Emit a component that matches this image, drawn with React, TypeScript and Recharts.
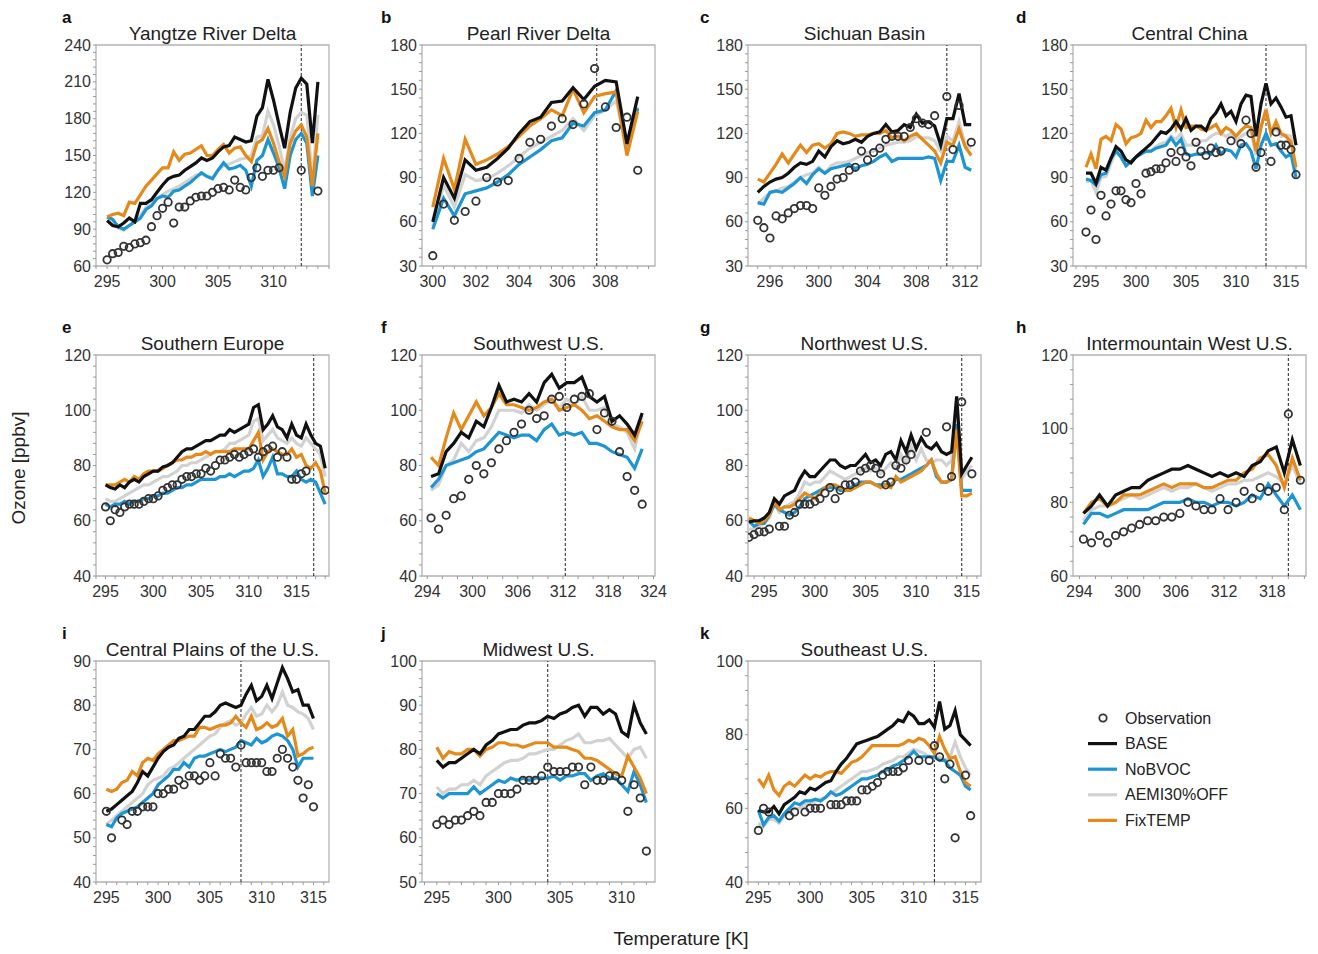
import React from "react";
import {
  ComposedChart,
  Line,
  Scatter,
  XAxis,
  YAxis,
  ReferenceLine,
  ReferenceArea,
} from "recharts";

const FONT = '"Liberation Sans", Arial, Helvetica, sans-serif';

// temperature bins (regular spacing, K)
const bins = (start: number, count: number, step: number) =>
  Array.from({ length: count }, (_, i) => Math.round((start + i * step) * 100) / 100);
const range = (a: number, b: number, s: number) => {
  const out: number[] = [];
  for (let v = a; v <= b + 1e-9; v += s) out.push(Math.round(v * 100) / 100);
  return out;
};

// ---------- a: Yangtze River Delta ----------
const tA = bins(295, 39, 0.5);
const baseA = [97,93,92,95,99,96,111,111,114,120,126,131,133,134,138,141,144,148,146,148,153,157,158,165,163,161,162,182,189,212,195,175,156,185,205,213,208,160,210];
const fixA = [100,102,103,101,112,111,118,125,130,135,140,140,153,146,151,152,155,158,150,150,155,159,152,156,157,150,145,160,163,172,160,145,133,160,170,175,165,125,168];
const aemiA = [100,97,91,89,93,96,101,108,110,115,118,121,123,125,128,131,134,135,133,132,138,142,143,145,147,148,150,165,166,186,175,158,137,165,180,185,183,130,183];
const noBvocA = [100,98,92,90,93,96,99,106,109,115,117,116,121,122,125,128,132,136,133,131,138,144,139,140,142,138,125,146,150,163,152,140,123,150,163,168,160,117,150];
const obsA = [65,70,71,76,75,78,79,81,92,101,107,112,95,108,108,113,116,117,117,120,123,124,122,130,124,122,132,140,133,138,138,140,null,null,null,138,null,null,121];

// ---------- b: Pearl River Delta ----------
const tB = bins(300, 20, 0.5);
const baseB = [60,90,76,102,95,97,103,110,120,128,131,141,142,151,143,152,156,155,113,145];
const fixB = [70,103,82,116,99,102,106,111,118,125,130,136,132,150,134,145,147,148,105,135];
const aemiB = [57,85,70,92,88,89,93,98,104,110,114,118,122,130,122,132,136,142,110,138];
const noBvocB = [55,76,64,79,81,83,87,92,99,104,109,115,117,127,125,134,136,149,112,137];
const obsB = [37,72,61,67,74,90,87,88,103,114,116,125,130,126,140,164,138,124,131,95];

// ---------- c: Sichuan Basin ----------
const tC = bins(295, 36, 0.5);
const baseC = [80,84,87,89,90,93,97,100,99,101,108,104,111,115,113,114,116,114,118,120,121,126,121,122,126,124,133,127,128,125,112,130,130,147,126,126];
const fixC = [89,87,93,99,106,100,106,112,107,112,113,110,113,120,121,120,118,119,119,120,120,122,117,118,115,118,120,116,112,108,100,114,112,123,111,105];
const aemiC = [72,76,80,81,83,84,87,90,92,93,97,93,98,100,100,101,103,105,107,108,110,112,113,114,114,115,118,117,117,115,108,118,115,128,112,110];
const noBvocC = [73,72,80,81,80,83,86,90,86,92,96,93,96,97,98,99,96,98,99,101,104,106,101,103,103,103,103,103,104,103,88,101,101,112,97,95];
const obsC = [61,56,49,64,62,66,69,71,71,69,83,78,84,89,90,95,97,108,102,107,110,116,118,118,118,124,130,127,126,132,null,145,109,139,null,114];

// ---------- d: Central China ----------
const tD = bins(295, 43, 0.5);
const baseD = [93,93,86,97,95,103,111,108,102,100,104,107,110,113,117,121,120,123,128,123,130,122,125,125,122,130,134,140,132,135,128,140,146,145,118,140,154,140,144,138,131,132,112];
const fixD = [97,106,96,116,118,115,126,123,113,117,118,120,129,124,128,128,132,137,124,136,124,125,125,123,122,124,126,120,124,122,118,122,125,124,108,124,136,120,128,120,118,114,97];
const aemiD = [87,88,80,90,91,100,108,104,98,101,104,107,108,108,111,113,114,118,116,120,112,112,112,115,115,118,120,120,118,120,115,118,120,122,105,125,137,120,124,118,119,118,93];
const noBvocD = [89,88,85,92,93,103,108,104,98,101,104,106,108,108,110,111,112,117,112,116,106,105,106,106,107,106,112,106,109,108,104,112,113,108,96,112,120,112,113,108,104,106,90];
const obsD = [53,68,48,78,64,72,81,81,75,73,86,79,93,94,96,96,100,107,101,108,104,98,114,108,105,110,107,108,null,115,null,113,129,120,97,107,null,101,121,112,112,109,92];

// ---------- e: Southern Europe ----------
const tE = bins(295, 47, 0.5);
const baseE = [73,72,71.5,73,72,74,75,74,76,77,78,78,79.5,80,81,83,85,86,86,87,88,89,89,90,91,91,93,92,93,94,95,101,102,93,95,98,94,93,90,95,91,90,95,91,88,87,79];
const fixE = [73,73,73,74,75,74,76,75,77,78,78,78,79,80,81,82,82,83,83,84,84,85,84,85,85,85,85,86,86,86,86,89,92,82,85,86,85,84,84,86,83,84,80,79,81,78,70];
const aemiE = [68,67,67,68,69,70,71,72,73,73,74,75,76,76,77,78,80,80,81,81,82,83,84,85,85,86,88,88,89,90,91,96,97,89,91,93,90,89,88,90,88,87,90,88,86,84,76];
const noBvocE = [66,65,66,66,67,66,67,67,68,68,69,69,70,70,71,72,72,73,73,74,75,75,75,75,76,76,77,76,77,78,78,79,82,76,79,83,77,77,76,76,78,75,74,75,74,70,66];
const obsE = [65,60,64,63,65,66,66,66,67,68,68,69,71,72,73,73,75,76,76,77,77,79,78,80,82,82,83,84,83,84,85,86,83,85,86,87,83,85,83,75,75,77,78,null,null,null,71];

// ---------- f: Southwest U.S. ----------
const tF = bins(294.5, 29, 1);
const baseF = [76,77,85,88,92,90,96,94,101,109,103,104,103,106,103,110,113,108,110,110,112,105,103,105,96,98,95,91,99];
const fixF = [83,80,90,99,93,98,103,98,101,106,102,102,101,100,101,103,104,100,101,102,100,97,98,96,94,93,93,89,96];
const aemiF = [71,73,80,82,88,85,89,90,94,100,100,100,99,102,100,102,104,101,104,102,105,100,100,101,95,94,92,86,98];
const noBvocF = [72,75,80,81,82,83,85,86,89,92,91,90,91,91,89,93,95,91,92,91,92,88,88,87,85,84,83,79,86];
const obsF = [61,57,62,68,69,75,80,77,81,86,89,92,95,100,97,98,104,105,101,104,105,106,93,99,96,85,76,71,66];

// ---------- g: Northwest U.S. ----------
const tG = bins(293.5, 45, 0.5);
const baseG = [59.5,60,60,61,63,68,66,69,70,71,75,78,76,76,78,80,82,82,80,79,80,80,82,84,81,82,80,84,85,82,89,85,91,86,90,87,86,88,85,84,85,105,77,80,83];
const fixG = [61,60,59,60,62,67,64,65,65,66,68,70,69,68,70,72,73,73,72,71,71,72,73,74,74,73,72,73,72,76,74,75,76,77,78,80,82,77,74,74,75,93,69,69,70];
const aemiG = [57,57,58,59,61,66,63,65,66,67,70,74,73,74,74,76,78,77,76,75,76,77,78,79,78,79,77,79,81,79,84,81,87,82,86,82,81,82,82,80,82,103,75,78,80];
const noBvocG = [60,58,59,59,62,66,64,63,62,63,65,68,69,70,71,72,72,72,71,71,72,73,74,74,74,73,73,73,73,75,75,76,77,78,79,80,82,76,74,74,75,95,71,71,71];
const obsG = [54,55,56,56,57,null,58,58,62,63,66,66,66,67,68,70,72,68,71,73,73,74,78,79,80,79,77,73,74,80,79,82,84,null,null,92,null,null,null,94,76,null,103,null,77];

// ---------- h: Intermountain West U.S. ----------
const tH = bins(294.5, 28, 1);
const baseH = [77,79,82,79,82,83,84,84,86,87,88,89,89,90,89,88,87,88,87,88,87,90,91,94,95,88,97,90];
const fixH = [77,80,81,79,80,82,82,82,83,84,85,84,85,85,85,84,84,85,86,86,88,89,92,93,90,84,92,86];
const aemiH = [75,78,79,79,80,81,82,81,82,83,84,83,84,84,85,84,83,84,85,85,86,86,87,88,87,85,90,85];
const noBvocH = [74,77,77,76,77,78,78,78,78,79,80,80,80,81,80,80,79,80,80,79,80,82,81,85,82,79,82,78];
const obsTH = [294.5,295.5,296.5,297.5,298.5,299.5,300.5,301.5,302.5,303.5,304.5,305.5,306.5,307.5,308.5,309.5,310.5,311.5,312.5,313.5,314.5,315.5,316.5,317.5,318.5,319.5,320,321.5];
const obsH = [70,69,71,69,71,72,73,74,75,75,76,76,77,80,79,78,78,81,78,80,83,81,84,83,84,78,104,86];

// ---------- i: Central Plains of the U.S. ----------
const tI = bins(295, 41, 0.5);
const baseI = [56,56.5,57.5,58.5,59.5,60.5,62.5,65,64,66,68,69.5,70.5,71,72.5,73,74.5,74.5,76,77.5,77.5,78.5,80,80.5,80,79.5,80,82.5,84.5,81,82,84.5,81.5,85,88.5,86,83,83.5,80,80,77];
const fixI = [61,60.5,61,62.5,63,65,64,67,68,67.5,69,70,71,72,72,72.5,73,73,75,75,74.5,75,75.5,75.5,76,77.5,76,75,77.5,74.5,75,76,75,75.5,77,73,74.5,68.5,69,70,70.5];
const aemiI = [53,54,55,56,57,58,59,60,62,63,63.5,64,65.5,66,67,68,69,70,71,72,73,73.5,75,76,76.5,75.5,76,78,79.5,77.5,78,80,78.5,80,83,80,79.5,78.5,78,77,74.5];
const noBvocI = [53,52.5,54.5,55.5,56,56.5,57,58,59,60,62,63,64,65.5,65.5,67,66,68,68.5,68.5,69,69.5,70,69.5,70,70.5,72,71.5,71,72.5,71.5,72,73,73.5,73,72,70,66,68,68,68];
const obsI = [56,50,null,54,53,56,56,57,57,57,60,60,61,61,63,62,64,64,63,64,67,64,69,68,68,66,71,67,67,67,67,65,65,68,70,68,66,63,59,62,57];

// ---------- j: Midwest U.S. ----------
const tJ = bins(295, 35, 0.5);
const baseJ = [77.5,76,77,77,78,79,80,79,81,82,83.5,84,84.5,84.5,85.5,86,86,86.5,87.5,87,88,88.5,89.5,90,87.5,89.5,89.5,88,89,88,84,83,90,86,83.5];
const fixJ = [80.5,78,79.5,79,79,80,80,78.5,80,80.5,81.5,81.5,81,81,80.5,81,81.5,81.5,81.5,80.5,80.5,80.5,80,79.5,78,78,77.5,76.5,75.5,74.5,74,78.5,76,73.5,70];
const aemiJ = [71.5,70,71,71,72,72,73,72,74,75,76,77,77.5,77.5,78,79,79,79.5,80,80,81,82,82.5,83.5,81.5,81.5,82,82,82.5,81,79.5,78,80,80.5,78];
const noBvocJ = [70,69,70,70,70,70,71.5,70,71,72,73,72.5,73.5,73,73.5,73,73.5,73.5,73.5,74,73,74,74,74.5,74.5,73,74,74.5,73.5,73.5,72,70.5,75,72,68];
const obsJ = [63,64,63,64,64,65,66,65,68,68,70,70,70,71,73,73,73,74,76,75,75,75,76,76,72,76,73,73,74,74,73,66,72,69,57];

// ---------- k: Southeast U.S. ----------
const tK = bins(295, 42, 0.5);
const baseK = [59.5,59,59,60.5,58.5,61,62,63,64.5,64,65.5,65,66,67,67.5,70,72,73.5,75.5,77.5,78,78.5,79,79.5,80.5,81.5,82.5,84,83.5,86,85,83,83,84,82,89,81.5,82.5,86.5,80,78.5,77];
const fixK = [68,66,69,65,63.5,66,67,66,67.5,69,68,69,68.5,69.5,70,70,69.5,71,72.5,73,74,75.5,77,77,77,77,77,77,77.5,78.5,78,79,78.5,77,75,79.5,76,73.5,74,70,67,66];
const aemiK = [56,55,57,57,56,58,59,60,60,61,61,62,62.5,63,64,65,66,67,68,69,70,70,70.5,71,72,72.5,73,74,74,75,76,75.5,75,74,73.5,74,73,74,78,74,71,69];
const noBvocK = [59.5,55.5,57.5,58,56.5,58.5,60,61.5,61,62,62,62.5,62,63,64.5,63.5,64,65,66,67,68,68,68.5,69,70,70.5,71.5,72,73,74,75.5,74,74,74,74,73,73,71,70,69,66,65];
const obsK = [54,60,59,null,null,null,58,59,null,59,60,60,60,null,61,61,61,62,62,62,65,65,66,67,69,70,70,70,71,73,null,73,null,73,77,74,68,72,52,null,69,58];

// tick labels
const yTicksA = [60, 90, 120, 150, 180, 210, 240];
const yTicks30 = [30, 60, 90, 120, 150, 180];
const yTicks40 = [40, 60, 80, 100, 120];
const yTicksH = [60, 80, 100, 120];
const yTicksI = [40, 50, 60, 70, 80, 90];
const yTicksJ = [50, 60, 70, 80, 90, 100];
const yTicksK = [40, 60, 80, 100];
const xTicks295 = [295, 300, 305, 310, 315];
const xTicksA = [295, 300, 305, 310];
const xTicksB = [300, 302, 304, 306, 308];
const xTicksC = [296, 300, 304, 308, 312];
const xTicksF = [294, 300, 306, 312, 318, 324];
const xTicksH = [294, 300, 306, 312, 318];
const xTicksJ = [295, 300, 305, 310];

const COLORS = {
  base: "#111111",
  noBvoc: "#1d95d3",
  aemi: "#d2d2d2",
  fixTemp: "#e5891a",
  obs: "#333333",
};

const panels = [
  { letter: "a", title: "Yangtze River Delta", col: 0, row: 0, t: tA, base: baseA, fixTemp: fixA, aemi: aemiA, noBvoc: noBvocA, obs: obsA, xDomain: [294, 315], xTicks: xTicksA, xMinor: range(294, 315, 1), yDomain: [60, 240], yTicks: yTicksA, yMinor: range(60, 240, 6), dash: 312.5 },
  { letter: "b", title: "Pearl River Delta", col: 1, row: 0, t: tB, base: baseB, fixTemp: fixB, aemi: aemiB, noBvoc: noBvocB, obs: obsB, xDomain: [299.5, 310.3], xTicks: xTicksB, xMinor: range(300, 310, 0.5), yDomain: [30, 180], yTicks: yTicks30, yMinor: range(30, 180, 6), dash: 307.6 },
  { letter: "c", title: "Sichuan Basin", col: 2, row: 0, t: tC, base: baseC, fixTemp: fixC, aemi: aemiC, noBvoc: noBvocC, obs: obsC, xDomain: [294.2, 313.3], xTicks: xTicksC, xMinor: range(295, 313, 1), yDomain: [30, 180], yTicks: yTicks30, yMinor: range(30, 180, 6), dash: 310.5 },
  { letter: "d", title: "Central China", col: 3, row: 0, t: tD, base: baseD, fixTemp: fixD, aemi: aemiD, noBvoc: noBvocD, obs: obsD, xDomain: [293.7, 317], xTicks: xTicks295, xMinor: range(294, 317, 1), yDomain: [30, 180], yTicks: yTicks30, yMinor: range(30, 180, 6), dash: 313 },
  { letter: "e", title: "Southern Europe", col: 0, row: 1, t: tE, base: baseE, fixTemp: fixE, aemi: aemiE, noBvoc: noBvocE, obs: obsE, xDomain: [294, 318.4], xTicks: xTicks295, xMinor: range(294, 318, 1), yDomain: [40, 120], yTicks: yTicks40, yMinor: range(40, 120, 4), dash: 316.8 },
  { letter: "f", title: "Southwest U.S.", col: 1, row: 1, t: tF, base: baseF, fixTemp: fixF, aemi: aemiF, noBvoc: noBvocF, obs: obsF, xDomain: [293.3, 324.2], xTicks: xTicksF, xMinor: range(294, 324, 2), yDomain: [40, 120], yTicks: yTicks40, yMinor: range(40, 120, 4), dash: 312.3 },
  { letter: "g", title: "Northwest U.S.", col: 2, row: 1, t: tG, base: baseG, fixTemp: fixG, aemi: aemiG, noBvoc: noBvocG, obs: obsG, xDomain: [293.4, 316.4], xTicks: xTicks295, xMinor: range(294, 316, 1), yDomain: [40, 120], yTicks: yTicks40, yMinor: range(40, 120, 4), dash: 314.5 },
  { letter: "h", title: "Intermountain West U.S.", col: 3, row: 1, t: tH, base: baseH, fixTemp: fixH, aemi: aemiH, noBvoc: noBvocH, obs: obsH, obsT: obsTH, xDomain: [293.2, 322.2], xTicks: xTicksH, xMinor: range(294, 322, 2), yDomain: [60, 120], yTicks: yTicksH, yMinor: range(60, 120, 4), dash: 320 },
  { letter: "i", title: "Central Plains of the U.S.", col: 0, row: 2, t: tI, base: baseI, fixTemp: fixI, aemi: aemiI, noBvoc: noBvocI, obs: obsI, xDomain: [294, 316.5], xTicks: xTicks295, xMinor: range(294, 316, 1), yDomain: [40, 90], yTicks: yTicksI, yMinor: range(40, 90, 2), dash: 308 },
  { letter: "j", title: "Midwest U.S.", col: 1, row: 2, t: tJ, base: baseJ, fixTemp: fixJ, aemi: aemiJ, noBvoc: noBvocJ, obs: obsJ, xDomain: [293.8, 312.7], xTicks: xTicksJ, xMinor: range(294, 312, 1), yDomain: [50, 100], yTicks: yTicksJ, yMinor: range(50, 100, 2), dash: 304 },
  { letter: "k", title: "Southeast U.S.", col: 2, row: 2, t: tK, base: baseK, fixTemp: fixK, aemi: aemiK, noBvoc: noBvocK, obs: obsK, xDomain: [294, 316.5], xTicks: xTicks295, xMinor: range(294, 316, 1), yDomain: [40, 100], yTicks: yTicksK, yMinor: range(40, 100, 4), dash: 312 },
];

const COL_X = [96, 422, 748, 1073];
const ROW_Y = [45, 355, 661];
const LETTER_X = [62, 381, 700, 1016];
const PLOT_W = 233;
const PLOT_H = 221;
const M_LEFT = 57;
const M_TOP = 10;
const M_RIGHT = 24;
const X_H = 39;
const CHART_W = M_LEFT + PLOT_W + M_RIGHT;
const CHART_H = M_TOP + PLOT_H + X_H;

const isMajor = (majors: number[], v: number) => majors.some((m) => Math.abs(m - v) < 1e-6);

const makeXTick = (majors: number[]) => (props: any) => {
  const { x, y, payload } = props;
  if (!isMajor(majors, payload.value)) return <g />;
  return (
    <text x={x} y={y} dy="0.75em" textAnchor="middle" fontSize={16} fill="#333" fontFamily={FONT}>
      {payload.value}
    </text>
  );
};

const makeYTick = (majors: number[]) => (props: any) => {
  const { x, y, payload } = props;
  if (!isMajor(majors, payload.value)) return <g />;
  return (
    <text x={x} y={y} dy="0.35em" textAnchor="end" fontSize={16} fill="#333" fontFamily={FONT}>
      {payload.value}
    </text>
  );
};

const ObsDot = (props: any) => {
  const { cx, cy } = props;
  if (cx == null || cy == null) return <g />;
  return <circle cx={cx} cy={cy} r={3.7} fill="none" stroke={COLORS.obs} strokeWidth={1.8} />;
};

const Panel = ({ p }: { p: any }) => {
  const rows = p.t.map((t: number, i: number) => ({
    t,
    base: p.base[i],
    noBvoc: p.noBvoc[i],
    aemi: p.aemi[i],
    fixTemp: p.fixTemp[i],
  }));
  const obsT = p.obsT || p.t;
  const obsRows = obsT
    .map((t: number, i: number) => ({ t, obs: p.obs[i] }))
    .filter((r: any) => r.obs != null);

  return (
    <div
      style={{
        position: "absolute",
        left: COL_X[p.col] - M_LEFT,
        top: ROW_Y[p.row] - M_TOP,
        width: CHART_W,
        height: CHART_H,
      }}
    >
      <ComposedChart
        width={CHART_W}
        height={CHART_H}
        data={rows}
        margin={{ top: M_TOP, right: M_RIGHT, bottom: 0, left: 0 }}
      >
        <XAxis
          type="number"
          dataKey="t"
          domain={p.xDomain}
          allowDataOverflow
          ticks={p.xMinor}
          interval={0}
          height={X_H}
          axisLine={false}
          tickLine={{ stroke: "#9a9a9a" }}
          tickSize={3}
          tickMargin={6}
          tick={makeXTick(p.xTicks)}
        />
        <YAxis
          type="number"
          domain={p.yDomain}
          allowDataOverflow
          ticks={p.yMinor}
          interval={0}
          width={M_LEFT}
          axisLine={false}
          tickLine={{ stroke: "#9a9a9a" }}
          tickSize={3}
          tickMargin={2}
          tick={makeYTick(p.yTicks)}
        />
        <ReferenceArea
          x1={p.xDomain[0]}
          x2={p.xDomain[1]}
          y1={p.yDomain[0]}
          y2={p.yDomain[1]}
          fill="none"
          stroke="#b3b3b3"
          strokeWidth={1.3}
        />
        <ReferenceLine x={p.dash} stroke="#222" strokeWidth={1} strokeDasharray="3 2" />
        <Line type="linear" dataKey="aemi" stroke={COLORS.aemi} strokeWidth={3.2} dot={false} activeDot={false} isAnimationActive={false} />
        <Line type="linear" dataKey="noBvoc" stroke={COLORS.noBvoc} strokeWidth={3.2} dot={false} activeDot={false} isAnimationActive={false} />
        <Line type="linear" dataKey="fixTemp" stroke={COLORS.fixTemp} strokeWidth={3.2} dot={false} activeDot={false} isAnimationActive={false} />
        <Line type="linear" dataKey="base" stroke={COLORS.base} strokeWidth={3.2} dot={false} activeDot={false} isAnimationActive={false} />
        <Scatter data={obsRows} dataKey="obs" shape={ObsDot} isAnimationActive={false} />
      </ComposedChart>
    </div>
  );
};

const legendItems = [
  { name: "Observation", kind: "obs", color: COLORS.obs },
  { name: "BASE", kind: "line", color: COLORS.base },
  { name: "NoBVOC", kind: "line", color: COLORS.noBvoc },
  { name: "AEMI30%OFF", kind: "line", color: COLORS.aemi },
  { name: "FixTEMP", kind: "line", color: COLORS.fixTemp },
];

export default function App() {
  return (
    <div
      style={{
        position: "absolute",
        left: 0,
        top: 0,
        width: 1318,
        height: 954,
        background: "#fff",
        fontFamily: FONT,
      }}
    >
      <svg width={1318} height={954} style={{ position: "absolute", left: 0, top: 0 }}>
        {panels.map((p) => (
          <g key={p.letter}>
            <text
              x={LETTER_X[p.col]}
              y={ROW_Y[p.row] - 28}
              dominantBaseline="central"
              fontSize={17}
              fontWeight="bold"
              fill="#111"
              fontFamily={FONT}
            >
              {p.letter}
            </text>
            <text
              x={COL_X[p.col] + PLOT_W / 2}
              y={ROW_Y[p.row] - 5}
              textAnchor="middle"
              fontSize={19}
              fill="#222"
              fontFamily={FONT}
            >
              {p.title}
            </text>
          </g>
        ))}
        <text
          x={18}
          y={468}
          transform="rotate(-90 18 468)"
          textAnchor="middle"
          dominantBaseline="central"
          fontSize={19}
          fill="#222"
          fontFamily={FONT}
        >
          Ozone [ppbv]
        </text>
        <text x={681} y={938} textAnchor="middle" dominantBaseline="central" fontSize={19} fill="#222" fontFamily={FONT}>
          Temperature [K]
        </text>
        {legendItems.map((it, i) => {
          const y = 718 + i * 25.6;
          return (
            <g key={it.name}>
              {it.kind === "obs" ? (
                <circle cx={1103} cy={y} r={3.7} fill="none" stroke={it.color} strokeWidth={1.8} />
              ) : (
                <line x1={1088} x2={1117} y1={y} y2={y} stroke={it.color} strokeWidth={3.2} />
              )}
              <text x={1125} y={y} dominantBaseline="central" fontSize={16} fill="#222" fontFamily={FONT}>
                {it.name}
              </text>
            </g>
          );
        })}
      </svg>
      {panels.map((p) => (
        <Panel key={p.letter} p={p} />
      ))}
    </div>
  );
}
